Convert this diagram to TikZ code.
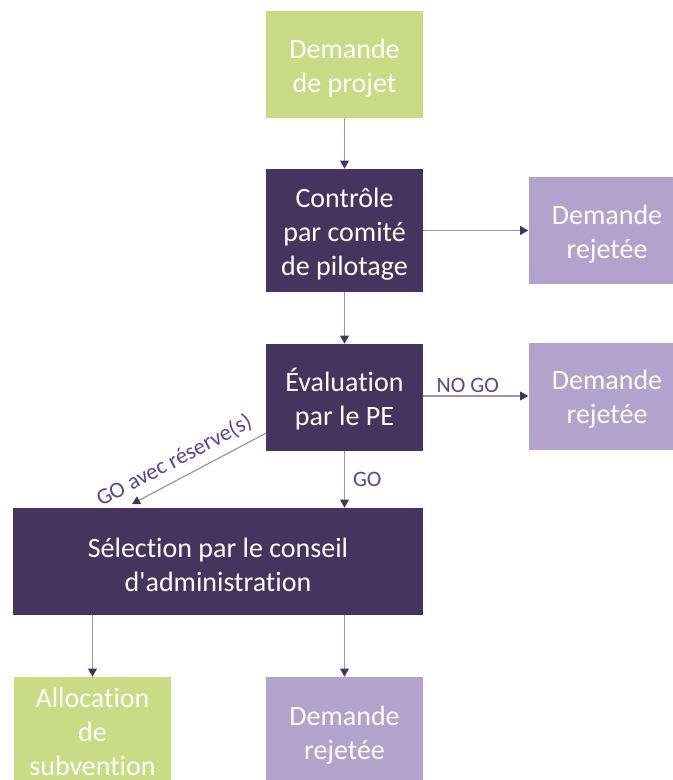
\documentclass[tikz,border=0pt]{standalone}
\usepackage{fontspec}
\setmainfont{Carlito}[Ligatures={TeXOff,CommonOff}]
\usetikzlibrary{arrows.meta,positioning}
\definecolor{vert}{HTML}{C8DC86}
\definecolor{violetfonce}{HTML}{47345E}
\definecolor{violetclair}{HTML}{B3A2CC}
\definecolor{trait}{HTML}{9E92B0}
\definecolor{etiq}{HTML}{5E4490}
% raise the first line so the text sits a little low in its box
\newcommand{\decal}{\rule{0pt}{20pt}}

\begin{document}
\begin{tikzpicture}[
    x=0.75pt, y=-0.75pt,
    box/.style={rectangle, minimum width=117.75pt, minimum height=80.25pt, align=center, text=white, inner sep=1pt,
        font=\fontsize{21}{25.5}\selectfont},
    vbox/.style={box, fill=vert},
    dbox/.style={box, fill=violetfonce},
    rbox/.style={box, fill=violetclair},
    arrow/.style={draw=trait, line width=0.9pt, -{Triangle[length=6pt,width=6.5pt,color=violetfonce]}},
    lab/.style={text=etiq, font=\fontsize{16.5}{19}\selectfont, inner sep=2pt}
]
    \useasboundingbox (0,0) rectangle (673,780);
    \clip (0,0) rectangle (673,780);

    \node[vbox] (demande) at (344.5, 64.5) {\decal Demande\\de projet};
    \node[dbox, minimum height=92.25pt] (controle) at (344.5, 230.5) {\decal Contrôle\\par comité\\de pilotage};
    \node[rbox] (rej1) at (607, 230.5) {\decal Demande\\rejetée};
    \node[dbox] (eval) at (344.5, 397.5) {\decal Évaluation\\par le PE};
    \node[rbox] (rej2) at (607, 396) {\decal Demande\\rejetée};
    \node[dbox, minimum width=307.5pt] (selection) at (218, 561.5) {\decal Sélection par le conseil\\d'administration};
    \node[vbox, minimum height=82.5pt] (allocation) at (92.5, 732) {Allocation\\de\\subvention};
    \node[rbox, minimum height=82.5pt] (rej3) at (344.5, 732) {\decal Demande\\rejetée};
    \coordinate (reserve) at (132, 504);

    \draw[arrow] (demande) -- (controle);
    \draw[arrow] (controle) -- (rej1);
    \draw[arrow] (controle) -- (eval);
    \draw[arrow] (eval.east |- rej2.west) -- node[lab, above, xshift=-6pt] (nogo) {NO GO} (rej2.west);
    \draw[arrow] (eval) -- node[lab, right, xshift=4pt] (go) {GO} (eval |- selection.north);
    \draw[arrow] ([yshift=13.5pt]eval.south west) -- node[lab, sloped, above=4pt, pos=0.62, font=\fontsize{17}{19}\selectfont] (goreserve) {GO avec réserve(s)} (reserve);
    \draw[arrow] (allocation |- selection.south) -- (allocation);
    \draw[arrow] (rej3 |- selection.south) -- (rej3);
\end{tikzpicture}
\end{document}
